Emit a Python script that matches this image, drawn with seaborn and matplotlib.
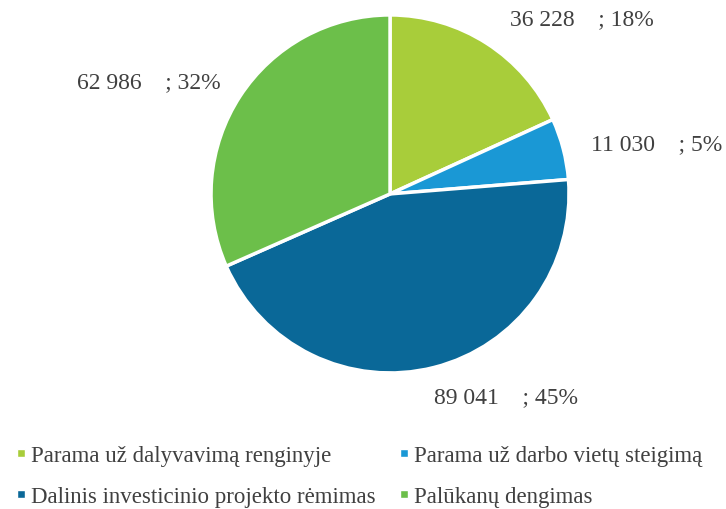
import matplotlib.pyplot as plt
import seaborn as sns
from matplotlib.lines import Line2D

# duomenys
kategorijos = ['Parama už dalyvavimą renginyje', 'Parama už darbo vietų steigimą',
               'Dalinis investicinio projekto rėmimas', 'Palūkanų dengimas']
reiksmes = [36228, 11030, 89041, 62986]
procentai = [18, 5, 45, 32]
spalvos = ['#a8cd3a', '#1a98d5', '#0a6898', '#6cbf4a']

sns.set_theme(style="white")
plt.rcParams['font.family'] = ['Liberation Serif', 'DejaVu Serif']

fig = plt.figure(figsize=(7.26, 5.10), dpi=100)
ax = fig.add_axes([0, 0, 1, 1])
ax.pie(reiksmes, colors=spalvos, startangle=90, counterclock=False,
       wedgeprops=dict(edgecolor='white', linewidth=2.5))
ax.set_xlim(-2.179, 1.877)
ax.set_ylim(-1.760, 1.089)
ax.axis('off')

# etikečių vietos (kaip Excel'yje)
vietos = [(1.07, 0.98), (1.49, 0.28), (0.65, -1.13), (-1.35, 0.63)]
for v, p, (x, y) in zip(reiksmes, procentai, vietos):
    tekstas = f"{v:,}".replace(',', ' ') + f"    ; {p}%"
    ax.text(x, y, tekstas, ha='center', va='center', fontsize=17, color='#404040')

handles = [Line2D([0], [0], marker='s', color='w', markerfacecolor=c,
                  markersize=5.5, linestyle='') for c in spalvos]
tvarka = [0, 2, 1, 3]
fig.legend([handles[i] for i in tvarka], [kategorijos[i] for i in tvarka],
           ncol=2, loc='lower left', bbox_to_anchor=(-0.008, -0.037), frameon=False,
           fontsize=16.5, handlelength=0.5, handletextpad=0.2, columnspacing=1.0,
           labelspacing=0.9, labelcolor='#404040')

fig.savefig('out.png', dpi=100)
